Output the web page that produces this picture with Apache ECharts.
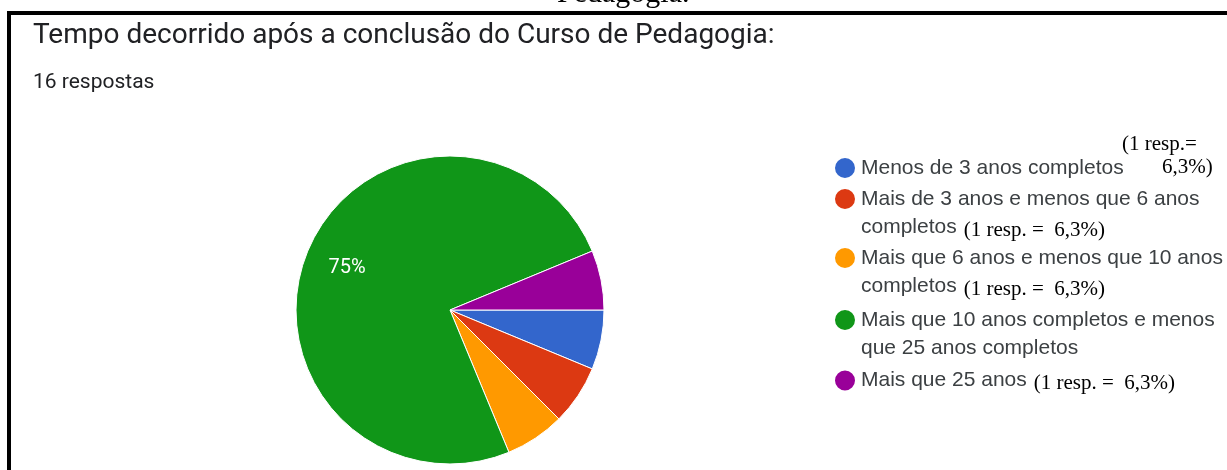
<!DOCTYPE html>
<html>
<head>
<meta charset="utf-8">
<script src="https://cdn.jsdelivr.net/npm/echarts@6/dist/echarts.min.js"></script>
<style>
  html, body { margin: 0; padding: 0; background: #fff; }
  #chart { width: 1227px; height: 470px; }
</style>
</head>
<body>
<div id="chart"></div>
<script>
// data (16 respostas)
const categories = [
  "Menos de 3 anos completos",
  "Mais de 3 anos e menos que 6 anos completos",
  "Mais que 6 anos e menos que 10 anos completos",
  "Mais que 10 anos completos e menos que 25 anos completos",
  "Mais que 25 anos"
];
const counts = [1, 1, 1, 12, 1];
const colors = ["#3366cc", "#dc3912", "#ff9900", "#109618", "#990099"];
// how the legend wraps each name
const legendLines = [
  ["Menos de 3 anos completos"],
  ["Mais de 3 anos e menos que 6 anos", "completos"],
  ["Mais que 6 anos e menos que 10 anos", "completos"],
  ["Mais que 10 anos completos e menos", "que 25 anos completos"],
  ["Mais que 25 anos"]
];
// handwritten notes pasted next to the legend
const notes = ["", "(1 resp. =  6,3%)", "(1 resp. =  6,3%)", "", "(1 resp. =  6,3%)"];

const total = counts.reduce((a, b) => a + b, 0);
const iconY = [167, 198, 257, 319, 378];

let myChart = echarts.init(document.getElementById("chart"));

let legends = categories.map((name, i) => {
  const lines = legendLines[i];
  const twoLines = lines.length > 1;
  return {
    data: [name],
    orient: "vertical",
    left: 833,
    top: iconY[i] - 11,
    padding: 0,
    icon: "circle",
    itemWidth: 22,
    itemHeight: 22,
    itemGap: 0,
    selectedMode: false,
    formatter: () => {
      let parts = lines.map(l => "{t|" + l + "}");
      if (notes[i]) parts[parts.length - 1] += "{s|" + notes[i] + "}";
      return parts.join("\n");
    },
    textStyle: {
      padding: twoLines ? [28, 0, 0, 0] : 0,
      rich: {
        t: { fontFamily: "Liberation Sans", fontSize: 21, color: "#3c4043", lineHeight: 28 },
        s: { fontFamily: "Liberation Serif", fontSize: 21, color: "#000", lineHeight: 28, padding: [6, 0, 0, 7] }
      }
    }
  };
});

let option = {
  animation: false,
  color: colors,
  title: {
    left: 33,
    top: 22,
    padding: 0,
    text: "Tempo decorrido após a conclusão do Curso de Pedagogia:",
    subtext: "16 respostas",
    itemGap: 22,
    textStyle: { fontFamily: "Roboto", fontSize: 28, fontWeight: "normal", color: "#202124" },
    subtextStyle: { fontFamily: "Roboto", fontSize: 21, color: "#202124" }
  },
  legend: legends,
  graphic: [
    {
      type: "text", left: 557, top: -21, z: 1,
      style: { text: "Pedagogia.", font: "30px 'Liberation Serif'", fill: "#000" }
    },
    { type: "rect", shape: { x: 7, y: 11, width: 1220, height: 4 }, style: { fill: "#000" }, z: 10 },
    { type: "rect", shape: { x: 7, y: 11, width: 4, height: 459 }, style: { fill: "#000" }, z: 10 },
    {
      type: "text", left: 1122, top: 134,
      style: { text: "(1 resp.=", font: "21px 'Liberation Serif'", fill: "#000" }
    },
    {
      type: "text", left: 1162, top: 157,
      style: { text: "6,3%)", font: "21px 'Liberation Serif'", fill: "#000" }
    }
  ],
  series: [
    {
      type: "pie",
      center: [450, 310],
      radius: 154,
      startAngle: 0,
      clockwise: true,
      percentPrecision: 0,
      emphasis: { disabled: true },
      itemStyle: { borderColor: "#fff", borderWidth: 1 },
      labelLine: { show: false },
      data: categories.map((name, i) => ({
        name: name,
        value: counts[i],
        label: {
          show: counts[i] / total > 0.1,
          position: "inside",
          formatter: "{d}%",
          color: "#fff",
          fontFamily: "Roboto",
          fontSize: 20,
          offset: [-29, -11]
        }
      }))
    }
  ]
};

myChart.setOption(option);
</script>
</body>
</html>
